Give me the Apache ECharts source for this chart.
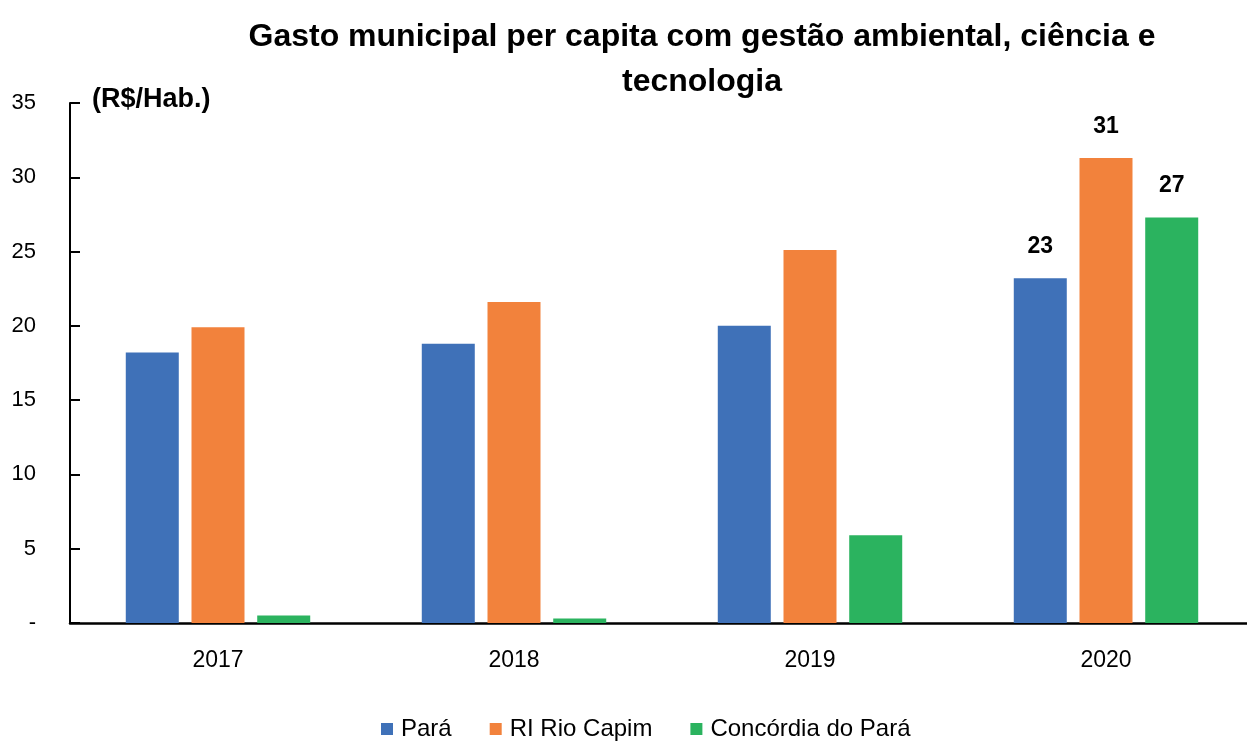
<!DOCTYPE html>
<html>
<head>
<meta charset="utf-8">
<script src="https://cdn.jsdelivr.net/npm/echarts@6/dist/echarts.min.js"></script>
<style>
  html, body { margin: 0; padding: 0; background: #fff; }
  #chart { width: 1247px; height: 741px; }
</style>
</head>
<body>
<div id="chart"></div>
<script>
// anos
const anos = ['2017', '2018', '2019', '2020'];
// R$/Hab.
const para = [18.2, 18.8, 20.0, 23.2];
const rioCapim = [19.9, 21.6, 25.1, 31.3];
const concordia = [0.5, 0.3, 5.9, 27.3];
// ticks do eixo y
const yTicks = [0, 5, 10, 15, 20, 25, 30, 35];

const fonte = '"Liberation Sans", Arial, sans-serif';

// so mostra rotulo no ultimo ano
function rotulo(p) {
    return p.dataIndex === anos.length - 1 ? Math.round(p.value) : '';
}

let chart = echarts.init(document.getElementById('chart'));
let option = {
    animation: false,
    textStyle: { fontFamily: fonte },
    title: {
        text: 'Gasto municipal per capita com gestão ambiental, ciência e\ntecnologia',
        left: 697,
        top: 10,
        textAlign: 'center',
        textStyle: {
            fontFamily: fonte,
            fontSize: 32,
            fontWeight: 'bold',
            color: '#000',
            lineHeight: 45
        }
    },
    legend: {
        data: ['Pará', 'RI Rio Capim', 'Concórdia do Pará'],
        top: 712,
        left: 376,
        icon: 'rect',
        itemWidth: 12,
        itemHeight: 12,
        itemGap: 38,
        textStyle: { fontFamily: fonte, fontSize: 24, color: '#000', padding: [0, 0, 0, 3] }
    },
    graphic: [{
        type: 'text',
        left: 92,
        top: 86,
        style: {
            text: '(R$/Hab.)',
            font: 'bold 27px ' + fonte,
            fill: '#000'
        }
    }],
    grid: {
        left: 70,
        width: 1184,
        top: 103,
        bottom: 118,
        outerBoundsMode: 'none'
    },
    xAxis: {
        type: 'category',
        data: anos,
        axisLine: { lineStyle: { color: '#000', width: 2.5 } },
        axisTick: { inside: true, length: 7, lineStyle: { color: '#000', width: 2.5 } },
        axisLabel: { fontSize: 23, color: '#000', margin: 26, fontFamily: fonte }
    },
    yAxis: {
        type: 'value',
        min: yTicks[0],
        max: yTicks[yTicks.length - 1],
        interval: 5,
        splitLine: { show: false },
        axisLine: { show: true, lineStyle: { color: '#000', width: 2 } },
        axisTick: { show: true, inside: true, length: 10, lineStyle: { color: '#000', width: 2 } },
        axisLabel: {
            fontSize: 22,
            color: '#000',
            margin: 34,
            fontFamily: fonte,
            formatter: v => v === 0 ? '-' : v
        }
    },
    series: [
        {
            name: 'Pará',
            type: 'bar',
            data: para,
            barWidth: 53,
            barGap: '24%',
            itemStyle: { color: '#3f71b8' },
            label: { show: true, position: 'top', distance: 20, fontSize: 23, fontWeight: 'bold', color: '#000', formatter: rotulo }
        },
        {
            name: 'RI Rio Capim',
            type: 'bar',
            data: rioCapim,
            barWidth: 53,
            barGap: '24%',
            itemStyle: { color: '#f2823c' },
            label: { show: true, position: 'top', distance: 20, fontSize: 23, fontWeight: 'bold', color: '#000', formatter: rotulo }
        },
        {
            name: 'Concórdia do Pará',
            type: 'bar',
            data: concordia,
            barWidth: 53,
            barGap: '24%',
            itemStyle: { color: '#2bb35f' },
            label: { show: true, position: 'top', distance: 20, fontSize: 23, fontWeight: 'bold', color: '#000', formatter: rotulo }
        }
    ]
};
chart.setOption(option);
</script>
</body>
</html>
